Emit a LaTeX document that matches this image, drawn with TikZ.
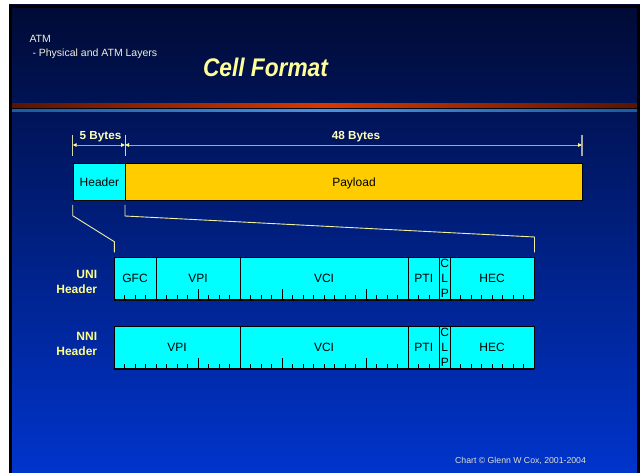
\documentclass[tikz,border=0pt]{standalone}
\usepackage{fontspec}
\setmainfont{Liberation Sans}
\usetikzlibrary{arrows.meta,calc}
\definecolor{bgtop}{HTML}{000A34}
\definecolor{bgbot}{HTML}{0034CC}
\definecolor{ttl}{HTML}{FFFF99}
\definecolor{lbl}{HTML}{FFFF88}
\definecolor{dimtxt}{HTML}{FFFFC0}
\definecolor{toptxt}{HTML}{F0F0D8}
\definecolor{cyanbox}{HTML}{00FFFF}
\definecolor{payl}{HTML}{FFCC00}
\definecolor{redL}{HTML}{5A1400}
\definecolor{redM}{HTML}{D83800}
\definecolor{bluL}{HTML}{1E5A9C}
\definecolor{bluM}{HTML}{4A92E0}
\definecolor{dimgray}{HTML}{A8A8A8}
\definecolor{tickyel}{HTML}{D8D8A0}
\definecolor{expl}{HTML}{F0F0A0}
\definecolor{copy}{HTML}{E0E0D0}
\tikzset{
  fieldbox/.style={draw=black, line width=0.8pt, fill=cyanbox, minimum height=42.5pt,
    inner sep=0pt, text height=8.6pt, text depth=0pt, font=\fontsize{12}{14}\selectfont},
  cellbox/.style={draw=black, line width=1pt, minimum height=37pt, anchor=north west,
    inner sep=0pt, text height=8.6pt, text depth=0pt, font=\fontsize{12}{14}\selectfont},
  dimline/.style={draw=dimgray, line width=0.8pt,
    {Triangle[length=4pt,width=3.5pt,color=ttl]}-{Triangle[length=4pt,width=3.5pt,color=ttl]}},
  dimtick/.style={draw=tickyel, line width=0.9pt},
  explline/.style={draw=expl, line width=0.9pt},
  bittick/.style={draw=black, line width=0.8pt},
  dimlabel/.style={text=dimtxt, font=\bfseries\fontsize{11.7}{14}\selectfont, anchor=base, inner sep=0pt},
  rowlabel/.style={text=lbl, font=\bfseries\fontsize{12}{15}\selectfont, align=right, anchor=east, inner sep=0pt}
}
\begin{document}
\begin{tikzpicture}[x=1pt,y=-1pt]
\useasboundingbox (0,0) rectangle (640,473);
\fill[white] (0,0) rectangle (640,473);
\shade[top color=bgtop, bottom color=bgbot] (9,5) rectangle (640,473);
% frame
\fill[black] (9,5) rectangle (12,473);
\fill[black] (9,5) rectangle (640,8);
\fill[black] (637,5) rectangle (640,473);
% header bars
\shade[left color=redL, right color=redL, middle color=redM] (12,103.3) rectangle (637,108.3);
\fill[black!60!bgtop] (12,108.3) rectangle (637,109.8);
\shade[left color=bluL, right color=bluL, middle color=bluM] (12,109.8) rectangle (637,111.7);
% titles
\node[anchor=base west, inner sep=0pt, text=toptxt, font=\fontsize{10.5}{12}\selectfont] (atm) at (29.3,42.7) {ATM};
\node[anchor=base west, inner sep=0pt, text=toptxt, font=\fontsize{10.5}{12}\selectfont] (sub) at (32.3,56.7) {- Physical and ATM Layers};
\node[anchor=base, inner sep=0pt, text=ttl, font=\bfseries\itshape\fontsize{25.5}{30}\selectfont] (title) at (265.5,77) {\scalebox{0.89}[1]{Cell Format}};
% dimension lines
\coordinate (d0) at (72.7,145);
\coordinate (d1) at (125,145);
\coordinate (d2) at (582,145);
\coordinate (t0a) at (72.7,135); \coordinate (t0b) at (72.7,156);
\coordinate (t1a) at (125,135); \coordinate (t1b) at (125,156);
\coordinate (t2a) at (582,135); \coordinate (t2b) at (582,156);
\draw[dimtick] (t0a) -- (t0b);
\draw[dimtick] (t1a) -- (t1b);
\draw[draw=dimgray, line width=1.2pt] (t2a) -- (t2b);
\draw[dimline] (d0) -- (d1);
\draw[dimline] (d1) -- (d2);
\node[dimlabel] (five) at (100.5,140) {5 Bytes};
\node[dimlabel] (fortyeight) at (356,140) {48 Bytes};
% cell
\node[cellbox, fill=cyanbox, minimum width=52.3pt] (hdr) at (72.7,163) {Header};
\node[cellbox, fill=payl, minimum width=457pt] (pay) at (125,163) {Payload};
% explode lines
\coordinate (hl1) at (72.7,205); \coordinate (hl2) at (72.7,215.7);
\coordinate (hl3) at (114.3,241.7); \coordinate (hl4) at (114.3,252.3);
\coordinate (hr1) at (125,205); \coordinate (hr2) at (125,216);
\coordinate (hr3) at (534.5,237); \coordinate (hr4) at (534.5,252.5);
\draw[explline] (hl1) -- (hl2) -- (hl3) -- (hl4);
\draw[explline] (hr1) -- (hr2) -- (hr3) -- (hr4);
% UNI row
\node[fieldbox, minimum width=42pt] (ugfc) at (135,278.55) {GFC};
\node[fieldbox, minimum width=84pt] (uvpi) at (198,278.55) {VPI};
\node[fieldbox, minimum width=168pt] (uvci) at (324,278.55) {VCI};
\node[fieldbox, minimum width=31.5pt] (upti) at (423.75,278.55) {PTI};
\node[fieldbox, minimum width=10.5pt] (uclp) at (444.75,278.55) {};
\node[fieldbox, minimum width=84pt] (uhec) at (492,278.55) {HEC};
\node[inner sep=0pt, align=center, font=\fontsize{12}{14.8}\selectfont] (uclpt) at (uclp.center) {C\\L\\P};
\draw[line width=1.8pt] (ugfc.south west) -- (uhec.south east);
\foreach \b in {1,2,3,5,6,7,9,10,11,13,14,15,17,18,19,20,21,22,23,25,26,27,29,30,33,34,35,36,37,38,39}
  \draw[bittick] ({114+10.5*\b},299.8) -- ++(0,-5);
\foreach \b in {8,16,24}
  \draw[bittick] ({114+10.5*\b},299.8) -- ++(0,-11);
\node[rowlabel] (unil) at (97.3,282.3) {UNI\\Header};
% NNI row
\node[fieldbox, minimum width=126pt] (nvpi) at (177,347.25) {VPI};
\node[fieldbox, minimum width=168pt] (nvci) at (324,347.25) {VCI};
\node[fieldbox, minimum width=31.5pt] (npti) at (423.75,347.25) {PTI};
\node[fieldbox, minimum width=10.5pt] (nclp) at (444.75,347.25) {};
\node[fieldbox, minimum width=84pt] (nhec) at (492,347.25) {HEC};
\node[inner sep=0pt, align=center, font=\fontsize{12}{14.8}\selectfont] (nclpt) at (nclp.center) {C\\L\\P};
\draw[line width=1.8pt] (nvpi.south west) -- (nhec.south east);
\foreach \b in {1,2,3,4,5,6,7,9,10,11,13,14,15,17,18,19,20,21,22,23,25,26,27,29,30,33,34,35,36,37,38,39}
  \draw[bittick] ({114+10.5*\b},368.5) -- ++(0,-5);
\foreach \b in {8,16,24}
  \draw[bittick] ({114+10.5*\b},368.5) -- ++(0,-11);
\node[rowlabel] (nnil) at (97.3,344) {NNI\\Header};
% copyright
\node[anchor=base west, inner sep=0pt, text=copy, font=\fontsize{8.7}{10}\selectfont] (cr) at (455,463.3) {Chart © Glenn W Cox, 2001-2004};
\end{tikzpicture}
\end{document}
